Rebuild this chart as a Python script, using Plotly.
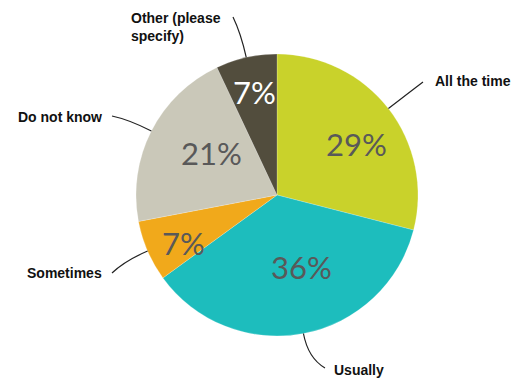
import math
import plotly.graph_objects as go

# Survey responses, in clockwise order from 12 o'clock
categories = ["All the time", "Usually", "Sometimes", "Do not know", "Other (please specify)"]
shares = [29, 36, 7, 21, 7]
outside_labels = ["All the time", "Usually", "Sometimes", "Do not know", "Other (please<br>specify)"]

colors = ["#c9d22b", "#1dbdbd", "#f1a91b", "#cac8b9", "#524d3d"]
pct_colors = ["#595959", "#595959", "#595959", "#595959", "#ffffff"]

W, H = 518, 381
CX, CY, R = 277, 195, 141  # pie centre and radius in pixels

# in-slice percentage placement: (radius fraction, angle nudge in degrees)
pct_place = [(0.67, 5), (0.54, -8), (0.745, -3.6), (0.55, 6), (0.745, 0)]
# outside label anchors: (x, y, xanchor)
label_place = [(433, 81, "left"), (332, 370, "left"), (104, 273, "right"),
               (104, 117, "right"), (129, 27, "left")]
# leader-line end points near each label
leader_end = [(423, 82), (325, 368), (112, 273), (112, 116), (233, 17)]


def px(x):
    return x / W


def py(y):
    return 1 - y / H


def polar(angle_deg, r):
    a = math.radians(angle_deg)
    return CX + r * math.sin(a), CY - r * math.cos(a)


total = sum(shares)
mids = []
acc = 0
for v in shares:
    mids.append((acc + v / 2) / total * 360)
    acc += v

fig = go.Figure(go.Pie(
    labels=categories,
    values=shares,
    sort=False,
    direction="clockwise",
    rotation=0,
    marker=dict(colors=colors, line=dict(color="rgba(255,255,255,0.35)", width=0.6)),
    textinfo="none",
    hoverinfo="label+percent",
    showlegend=False,
    domain=dict(x=[px(CX - R), px(CX + R)], y=[py(CY + R), py(CY - R)]),
))

annotations = []
shapes = []
for i, v in enumerate(shares):
    rf, nudge = pct_place[i]
    tx, ty = polar(mids[i] + nudge, rf * R)
    annotations.append(dict(
        x=px(tx), y=py(ty), xref="paper", yref="paper", showarrow=False,
        text=f"{v}%", font=dict(family="Lato", size=31, color=pct_colors[i]),
        xanchor="center", yanchor="middle",
    ))

    lx, ly, xa = label_place[i]
    annotations.append(dict(
        x=px(lx), y=py(ly), xref="paper", yref="paper", showarrow=False,
        text=outside_labels[i], align="left",
        font=dict(family="Liberation Sans", size=14, color="#111111", weight="bold"),
        xanchor=xa, yanchor="middle",
    ))

    sx, sy = polar(mids[i], R)
    qx, qy = polar(mids[i], R + 25)
    ex, ey = leader_end[i]
    path = (f"M {px(sx):.5f},{py(sy):.5f} Q {px(qx):.5f},{py(qy):.5f} "
            f"{px(ex):.5f},{py(ey):.5f}")
    shapes.append(dict(type="path", path=path, xref="paper", yref="paper",
                       line=dict(color="#222222", width=1.2)))

fig.update_layout(
    width=W, height=H,
    margin=dict(l=0, r=0, t=0, b=0),
    paper_bgcolor="white", plot_bgcolor="white",
    annotations=annotations,
    shapes=shapes,
)

fig.write_html("out.html")
